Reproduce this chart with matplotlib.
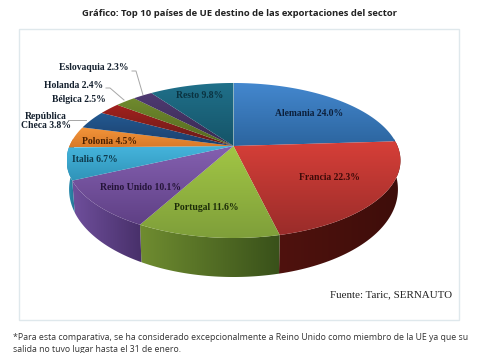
import numpy as np
import matplotlib
matplotlib.use('Agg')
import matplotlib.pyplot as plt
from matplotlib.patches import Polygon, Rectangle

# Datos del grafico
paises = ['Alemania', 'Francia', 'Portugal', 'Reino Unido', 'Italia', 'Polonia',
          'República Checa', 'Bélgica', 'Holanda', 'Eslovaquia', 'Resto']
valores = [24.0, 22.3, 11.6, 10.1, 6.7, 4.5, 3.8, 2.5, 2.4, 2.3, 9.8]

# color de la cara superior (arriba, abajo) y del lateral (claro, oscuro)
col_top = [('#4488cf', '#2c659f'), ('#d63f38', '#9a2c2a'), ('#a2c645', '#7f9f3a'),
           ('#8460b0', '#5f4085'), ('#45b4dc', '#2f93b8'), ('#f5963c', '#d97a28'),
           ('#235a92', '#1c3f6c'), ('#a3211e', '#651a18'), ('#6f8a2e', '#55691f'),
           ('#4f3a72', '#382a50'), ('#20708a', '#155468')]
col_side = [('#2c659f', '#1c3f6c'), ('#4f120e', '#3e0d0a'), ('#6f8c30', '#39511a'),
            ('#6f4f9c', '#48306a'), ('#2f93b8', '#236f8c'), ('#d97a28', '#a85a1a'),
            ('#1c3f6c', '#1c3f6c'), ('#651a18', '#651a18'), ('#55691f', '#55691f'),
            ('#382a50', '#382a50'), ('#155468', '#155468')]

# posicion del pie en pixeles (perspectiva simple)
cx, cy = 233.5, 146
a, b, k = 164, 74.8, 0.187
prof = 39


def proyecta(t):
    w = 1 + k * np.cos(t)
    return cx + a * np.sin(t) / w, cy - b * np.cos(t) / w


def borde_inferior(t, x, y):
    # la base se ve algo mas pequena que la tapa
    d = prof * (0.68 + 0.32 * np.abs(np.cos(t)))
    return cx + (x - cx) * 0.985, y + d


fig = plt.figure(figsize=(4.8, 3.53), dpi=100)
ax = fig.add_axes([0, 0, 1, 1])
ax.set_xlim(0, 480)
ax.set_ylim(353, 0)
ax.axis('off')

ax.add_patch(Rectangle((19, 29), 440, 291, fc='white', ec='#dfe8ec', lw=1, zorder=1))

limites = np.radians(np.concatenate([[0], np.cumsum(valores)]) * 3.6)

# laterales
for i in range(len(valores)):
    t0, t1 = limites[i], limites[i + 1]
    ts = np.linspace(max(t0, np.pi / 2 - 0.1), min(t1, 3 * np.pi / 2 + 0.1), 60)
    if ts[0] >= ts[-1]:
        continue
    x, y = proyecta(ts)
    xb, yb = borde_inferior(ts, x, y)
    pts = np.vstack([np.c_[x, y], np.c_[xb[::-1], yb[::-1]]])
    poly = Polygon(pts, closed=True, fc='none', ec='none', zorder=2)
    ax.add_patch(poly)
    c0, c1 = matplotlib.colors.to_rgb(col_side[i][0]), matplotlib.colors.to_rgb(col_side[i][1])
    grad = np.linspace(0, 1, 64)[None, :, None]
    img = np.array(c0)[None, None, :] * (1 - grad) + np.array(c1)[None, None, :] * grad
    im = ax.imshow(img, extent=[pts[:, 0].min(), pts[:, 0].max(), pts[:, 1].max(), pts[:, 1].min()],
                   aspect='auto', zorder=2, interpolation='bilinear')
    im.set_clip_path(poly)

# caras superiores
for i in range(len(valores)):
    ts = np.linspace(limites[i], limites[i + 1], 60)
    x, y = proyecta(ts)
    pts = np.vstack([[cx, cy], np.c_[x, y]])
    poly = Polygon(pts, closed=True, fc='none', ec='none', zorder=3)
    ax.add_patch(poly)
    c0, c1 = matplotlib.colors.to_rgb(col_top[i][0]), matplotlib.colors.to_rgb(col_top[i][1])
    grad = np.linspace(0, 1, 64)[:, None, None]
    img = np.array(c0)[None, None, :] * (1 - grad) + np.array(c1)[None, None, :] * grad
    im = ax.imshow(img, extent=[pts[:, 0].min(), pts[:, 0].max(), pts[:, 1].max(), pts[:, 1].min()],
                   aspect='auto', zorder=3, interpolation='bilinear')
    im.set_clip_path(poly)

ax.set_xlim(0, 480)
ax.set_ylim(353, 0)

# etiquetas
serif = ['Liberation Serif', 'DejaVu Serif']
pos_etiq = [(309, 113), (329, 178), (206, 207), (140, 187), (95, 159), (109, 141),
            (46, 121), (79, 100), (74, 86), (94, 68), (200, 96)]
col_etiq = ['#0c1f3a', '#3f0a08', '#1c2c08', '#241438', '#0e3a4c', '#4a2000',
            '#14202e', '#14202e', '#14202e', '#14202e', '#0a3240']
textos = [f'{p} {v:.1f}%' for p, v in zip(paises, valores)]
textos[6] = 'República\nCheca 3.8%'
for (x, y), s, c in zip(pos_etiq, textos, col_etiq):
    ax.text(x, y, s, ha='center', va='center', fontsize=6.9, fontweight='bold',
            family=serif, color=c, zorder=5, linespacing=1.05)

# lineas guia
guias = [([132, 136, 143], [71, 71, 95]), ([106, 110, 124], [88, 88, 100]),
         ([68, 86], [120, 120])]
for xs, ys in guias:
    ax.plot(xs, ys, color='#a6a6a6', lw=0.7, zorder=2.5)

ax.text(239, 13, 'Gráfico: Top 10 países de UE destino de las exportaciones del sector',
        ha='center', va='center', fontsize=6.8, fontweight='bold', family='Open Sans', color='#222222')
ax.text(391, 295, 'Fuente: Taric, SERNAUTO', ha='center', va='center', fontsize=7.9,
        family=serif, color='#222222')
ax.text(13, 337, '*Para esta comparativa, se ha considerado excepcionalmente a Reino Unido como miembro de la UE ya que su',
        ha='left', va='center', fontsize=6.3, family='Open Sans', color='#333333')
ax.text(13, 349, 'salida no tuvo lugar hasta el 31 de enero.',
        ha='left', va='center', fontsize=6.3, family='Open Sans', color='#333333')

fig.savefig('out.png', dpi=100)
